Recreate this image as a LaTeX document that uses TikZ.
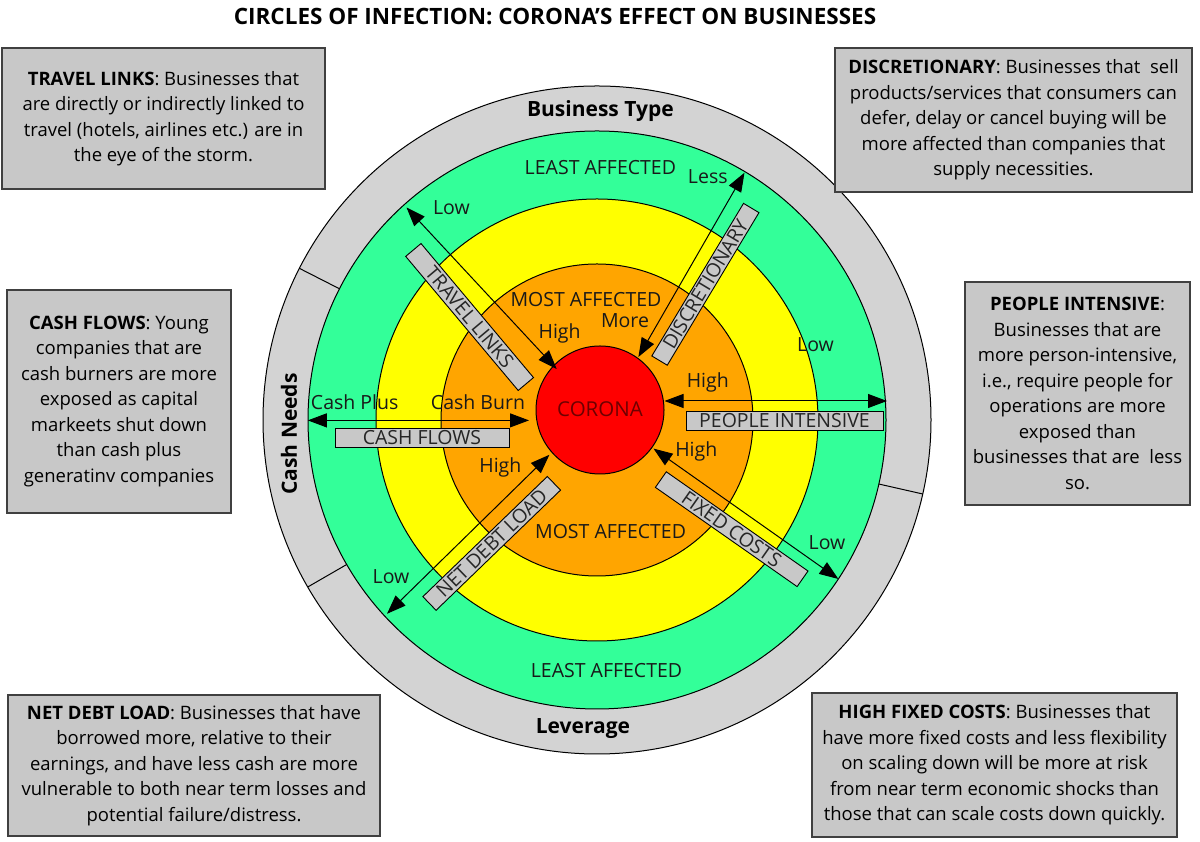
\documentclass[tikz,border=0pt]{standalone}
\usepackage{fontspec}
\setmainfont{Open Sans}
\usetikzlibrary{arrows.meta,calc}
\definecolor{ringgray}{RGB}{211,211,211}
\definecolor{ringgreen}{RGB}{51,255,153}
\definecolor{ringyellow}{RGB}{255,255,0}
\definecolor{ringorange}{RGB}{255,165,0}
\definecolor{coronared}{RGB}{255,0,0}
\definecolor{boxgray}{RGB}{200,200,200}
\definecolor{coronatext}{RGB}{110,0,0}
\begin{document}
\begin{tikzpicture}[x=1pt,y=1pt,
  ring/.style={draw=black, line width=1pt},
  tag/.style={draw=black, fill=boxgray, line width=0.9pt, inner sep=0pt, font=\fontsize{19.5}{19.5}\selectfont, text=black!85},
  lbl/.style={font=\fontsize{19.5}{19.5}\selectfont, inner sep=0pt, text=black!90},
  sect/.style={font=\bfseries\fontsize{21}{21}\selectfont, inner sep=0pt},
  info/.style={draw=black!75, fill=boxgray, line width=1.5pt, align=center, inner sep=0pt, font=\fontsize{18.5}{25.5}\selectfont},
  dbl/.style={line width=1pt, {Triangle[length=19pt,width=14pt]}-{Triangle[length=19pt,width=14pt]}}
]
\useasboundingbox (0,0) rectangle (1200,842);
\fill[white] (0,0) rectangle (1200,842);

\coordinate (C) at (597,422);
\coordinate (R) at (600,432);

% rings
\draw[ring, fill=ringgray] (C) circle[radius=334];
\draw[ring, fill=ringgreen] (C) circle[radius=289];
\draw[ring, fill=ringyellow] (C) circle[radius=221];
\draw[ring, fill=ringorange] (C) circle[radius=156];
\node[circle, draw=black, line width=1pt, fill=coronared, minimum size=128pt, inner sep=0pt] (corona) at (R) {};
\node[font=\fontsize{20.5}{20.5}\selectfont, text=coronatext] (coronalbl) at (600,433) {CORONA};

% ring dividers
\foreach \a in {153,210,-12.8}
  \draw[line width=1pt] ($(C)+(\a:289)$) -- ($(C)+(\a:334)$);

% section titles
\node[sect] (bt) at (600.4,730.5) {Business Type};
\node[sect, rotate=90] (cn) at (289,408) {Cash Needs};
\node[sect] (lev) at (583,113) {Leverage};

% zone labels
\node[lbl] (la1) at (600.4,674) {LEAST AFFECTED};
\node[lbl] (la2) at (606.5,171.6) {LEAST AFFECTED};
\node[lbl] (ma1) at (586,542) {MOST AFFECTED};
\node[lbl] (ma2) at (610.6,310) {MOST AFFECTED};

% tag boxes
\node[tag, minimum width=175pt, minimum height=20pt, rotate=-50] (ttravel) at (469.6,525) {TRAVEL LINKS};
\node[tag, minimum width=178pt, minimum height=18pt, rotate=59] (tdisc) at (705.4,557.7) {DISCRETIONARY};
\node[tag, minimum width=197pt, minimum height=19pt] (tpeople) at (784.5,421.5) {PEOPLE INTENSIVE};
\node[tag, minimum width=174pt, minimum height=19pt] (tcash) at (422,404.5) {CASH FLOWS};
\node[tag, minimum width=173pt, minimum height=19pt, rotate=44] (tdebt) at (491.7,298.6) {NET DEBT LOAD};
\node[tag, minimum width=173pt, minimum height=19pt, rotate=-35] (tfixed) at (731.7,312.8) {FIXED COSTS};

% arrow ends
\coordinate (travO) at (406.5,634.5);
\coordinate (travI) at (556.7,473);
\coordinate (discO) at (744.5,669.3);
\coordinate (discI) at (638.4,485);
\coordinate (peopI) at (664.5,441);
\coordinate (peopO) at (887,441);
\coordinate (cashO) at (307.8,421.6);
\coordinate (cashI) at (529,421.6);
\coordinate (debtI) at (549.4,387.2);
\coordinate (debtO) at (387,228.2);
\coordinate (fixI) at (653.5,393.4);
\coordinate (fixO) at (838.4,263);

\draw[dbl] (travO) -- (travI);
\draw[dbl] (discO) -- (discI);
\draw[dbl] (peopI) -- (peopO);
\draw[dbl] (cashO) -- (cashI);
\draw[dbl] (debtI) -- (debtO);
\draw[dbl] (fixI) -- (fixO);

% arrow labels
\node[lbl] (l1) at (451.4,634.5) {Low};
\node[lbl] (l2) at (559.6,508.6) {High};
\node[lbl] (l3) at (707.8,665) {Less};
\node[lbl] (l4) at (625,521) {More};
\node[lbl] (l5) at (815.5,497.5) {Low};
\node[lbl] (l6) at (707.8,459.5) {High};
\node[lbl] (l7) at (354.7,439.4) {Cash Plus};
\node[lbl] (l8) at (478,439.4) {Cash Burn};
\node[lbl] (l9) at (500.4,374.7) {High};
\node[lbl] (l10) at (696.3,390.3) {High};
\node[lbl] (l11) at (391,265.3) {Low};
\node[lbl] (l12) at (827,299) {Low};

% title
\node[font=\bfseries\fontsize{22.5}{22.5}\selectfont, inner sep=0pt] (title) at (555,825) {CIRCLES OF INFECTION: CORONA'S EFFECT ON BUSINESSES};

% info boxes
\node[info, minimum width=323pt, minimum height=141pt] (btravel) at (163.5,723.5)
 {\textbf{TRAVEL LINKS}: Businesses that\\are directly or indirectly linked to\\travel (hotels, airlines etc.) are in\\the eye of the storm.};
\node[info, minimum width=357pt, minimum height=144pt] (bdisc) at (1013.5,722)
 {\textbf{DISCRETIONARY}: Businesses that\ \ sell\\products/services that consumers can\\defer, delay or cancel buying will be\\more affected than companies that\\supply necessities.};
\node[info, minimum width=224pt, minimum height=223pt] (bcash) at (119,440.5)
 {\textbf{CASH FLOWS}: Young\\companies that are\\cash burners are more\\exposed as capital\\markeets shut down\\than cash plus\\generatinv companies};
\node[info, minimum width=225pt, minimum height=223pt] (bpeople) at (1077.5,448.5)
 {\textbf{PEOPLE INTENSIVE}:\\Businesses that are\\more person-intensive,\\i.e., require people for\\operations are more\\exposed than\\businesses that are\ \ less\\so.};
\node[info, minimum width=372pt, minimum height=141pt] (bdebt) at (194,76.5)
 {\textbf{NET DEBT LOAD}: Businesses that have\\borrowed more, relative to their\\earnings, and have less cash are more\\vulnerable to both near term losses and\\potential failure/distress.};
\node[info, minimum width=365pt, minimum height=144pt] (bfixed) at (994.5,77)
 {\textbf{HIGH FIXED COSTS}: Businesses that\\have more fixed costs and less flexibility\\on scaling down will be more at risk\\from near term economic shocks than\\those that can scale costs down quickly.};
\end{tikzpicture}
\end{document}
